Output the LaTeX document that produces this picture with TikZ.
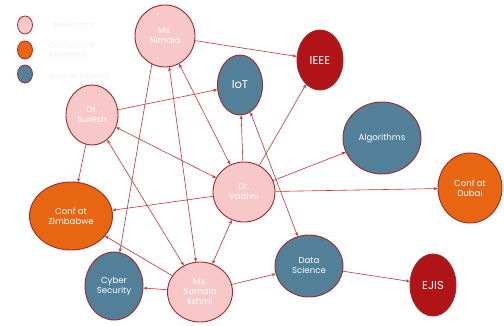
\documentclass[tikz,border=0pt]{standalone}
\usepackage{fontspec}
\setmainfont{Poppins}
\usetikzlibrary{shapes.geometric,arrows.meta}
\definecolor{pinkf}{RGB}{248,200,201}
\definecolor{orangef}{RGB}{232,102,18}
\definecolor{bluef}{RGB}{82,128,152}
\definecolor{redf}{RGB}{176,20,22}
\definecolor{bord}{RGB}{160,40,44}
\definecolor{edgec}{RGB}{196,52,52}
\definecolor{faint}{RGB}{241,241,241}
\tikzset{
  nd/.style={ellipse,draw=bord,line width=0.9pt,inner sep=0pt,align=center,text=white,font=\fontsize{8.6}{10}\selectfont},
  person/.style={nd,fill=pinkf,text=white!96!pinkf},
  conf/.style={nd,fill=orangef},
  area/.style={nd,fill=bluef},
  pub/.style={nd,fill=redf,font=\fontsize{11.5}{12}\selectfont},
  big/.style={font=\fontsize{11.5}{12}\selectfont},
  leg/.style={ellipse,draw=bord,line width=0.8pt,minimum width=15pt,minimum height=18pt,inner sep=0pt},
  legtxt/.style={text=faint,font=\fontsize{8}{9}\selectfont,anchor=west,align=left},
  ed/.style={draw=edgec,line width=0.6pt,-{Stealth[length=4pt,width=3.2pt]}},
  ded/.style={draw=edgec,line width=0.6pt,{Stealth[length=4pt,width=3.2pt]}-{Stealth[length=4pt,width=3.2pt]}}
}
\begin{document}
\begin{tikzpicture}[x=1pt,y=-1pt]
\useasboundingbox (0,0) rectangle (504,325);
% legend
\node[leg,fill=pinkf] (l1) at (25,25) {};
\node[leg,fill=orangef] (l2) at (25,50) {};
\node[leg,fill=bluef] (l3) at (25,74) {};
\node[legtxt] (t1) at (48,25) {Researcher};
\node[legtxt] (t2) at (45,50) {Conference\\Attended};
\node[legtxt] (t3) at (45,76) {Area of Interest};
% nodes
\node[person,minimum width=60pt,minimum height=62pt] (nim) at (165,36) {Ms.\\Nimala};
\node[area,big,minimum width=45pt,minimum height=60pt] (iot) at (240,85) {IoT};
\node[pub,minimum width=46pt,minimum height=60pt] (ieee) at (320,60) {IEEE};
\node[person,minimum width=52pt,minimum height=60pt] (sur) at (92,115) {Dr.\\Suresh};
\node[area,minimum width=78pt,minimum height=72pt] (alg) at (382,138) {Algorithms};
\node[person,minimum width=62pt,minimum height=60pt] (vad) at (244,192) {Dr.\\Vadivu};
\node[conf,minimum width=64pt,minimum height=70pt] (dub) at (470,188) {Conf at\\Dubai};
\node[conf,minimum width=83pt,minimum height=68pt] (zim) at (71,216) {Conf at\\Zimbabwe};
\node[area,minimum width=58pt,minimum height=68pt] (cyb) at (114,286) {Cyber\\Security};
\node[person,minimum width=65pt,minimum height=60pt] (sor) at (200,292) {Ms.\\Sornala\\kshmi};
\node[area,minimum width=68pt,minimum height=62pt] (ds) at (309,266) {Data\\Science};
\node[pub,minimum width=46pt,minimum height=62pt] (ejis) at (433,285) {EJIS};
% edges
\draw[ed] (nim) -- (ieee);
\draw[ed] (sur) -- (iot);
\draw[ed] (sur) -- (zim);
\draw[ded] (sur) -- (vad);
\draw[ded] (sur) -- (sor);
\draw[ed] (nim.-115) -- (cyb);
\draw[ded] (nim) -- (sor);
\draw[ded] (nim) -- (vad);
\draw[ded] (vad) -- (sor);
\draw[ed] (vad) -- (iot);
\draw[ded] (iot) -- (ds);
\draw[ed] (vad) -- (ieee);
\draw[ed] (vad) -- (alg);
\draw[ed] (vad) -- (dub);
\draw[ed] (vad) -- (zim);
\draw[ed] (sor) -- (zim);
\draw[ed] (sor) -- (cyb);
\draw[ed] (sor) -- (ds);
\draw[ed] (ds) -- (ejis);
\end{tikzpicture}
\end{document}
